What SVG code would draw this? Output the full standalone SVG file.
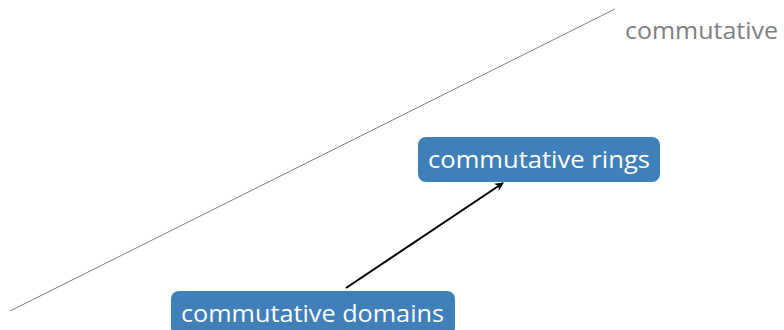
<svg xmlns="http://www.w3.org/2000/svg" width="784" height="330" viewBox="0 0 784 330">
<style>
.box{fill:#3f7fba}
.lbl{font-family:"Open Sans","DejaVu Sans",sans-serif;font-size:24px;fill:#ffffff}
.gray{font-family:"Open Sans","DejaVu Sans",sans-serif;font-size:24px;fill:#808080}
</style>
<defs>
<marker id="ah" viewBox="0 0 10 10" refX="9" refY="5" markerWidth="9" markerHeight="9" orient="auto" markerUnits="userSpaceOnUse">
<path d="M0,0 L10,5 L0,10 L3,5 Z" fill="#000"/>
</marker>
</defs>
<line x1="10" y1="311" x2="615" y2="9" stroke="#808080" stroke-width="1"/>
<text class="gray" x="625" y="39" textLength="153" lengthAdjust="spacingAndGlyphs">commutative</text>
<g id="connectors">
<line x1="346" y1="288" x2="503" y2="183" stroke="#000" stroke-width="2" marker-end="url(#ah)"/>
</g>
<g id="rings">
<rect class="box" x="418" y="137" width="242" height="45" rx="8"/>
<text class="lbl" x="428" y="168" textLength="222" lengthAdjust="spacingAndGlyphs">commutative rings</text>
</g>
<g id="domains">
<rect class="box" x="171" y="291" width="284" height="45" rx="8"/>
<text class="lbl" x="181" y="322" textLength="263" lengthAdjust="spacingAndGlyphs">commutative domains</text>
</g>
</svg>
